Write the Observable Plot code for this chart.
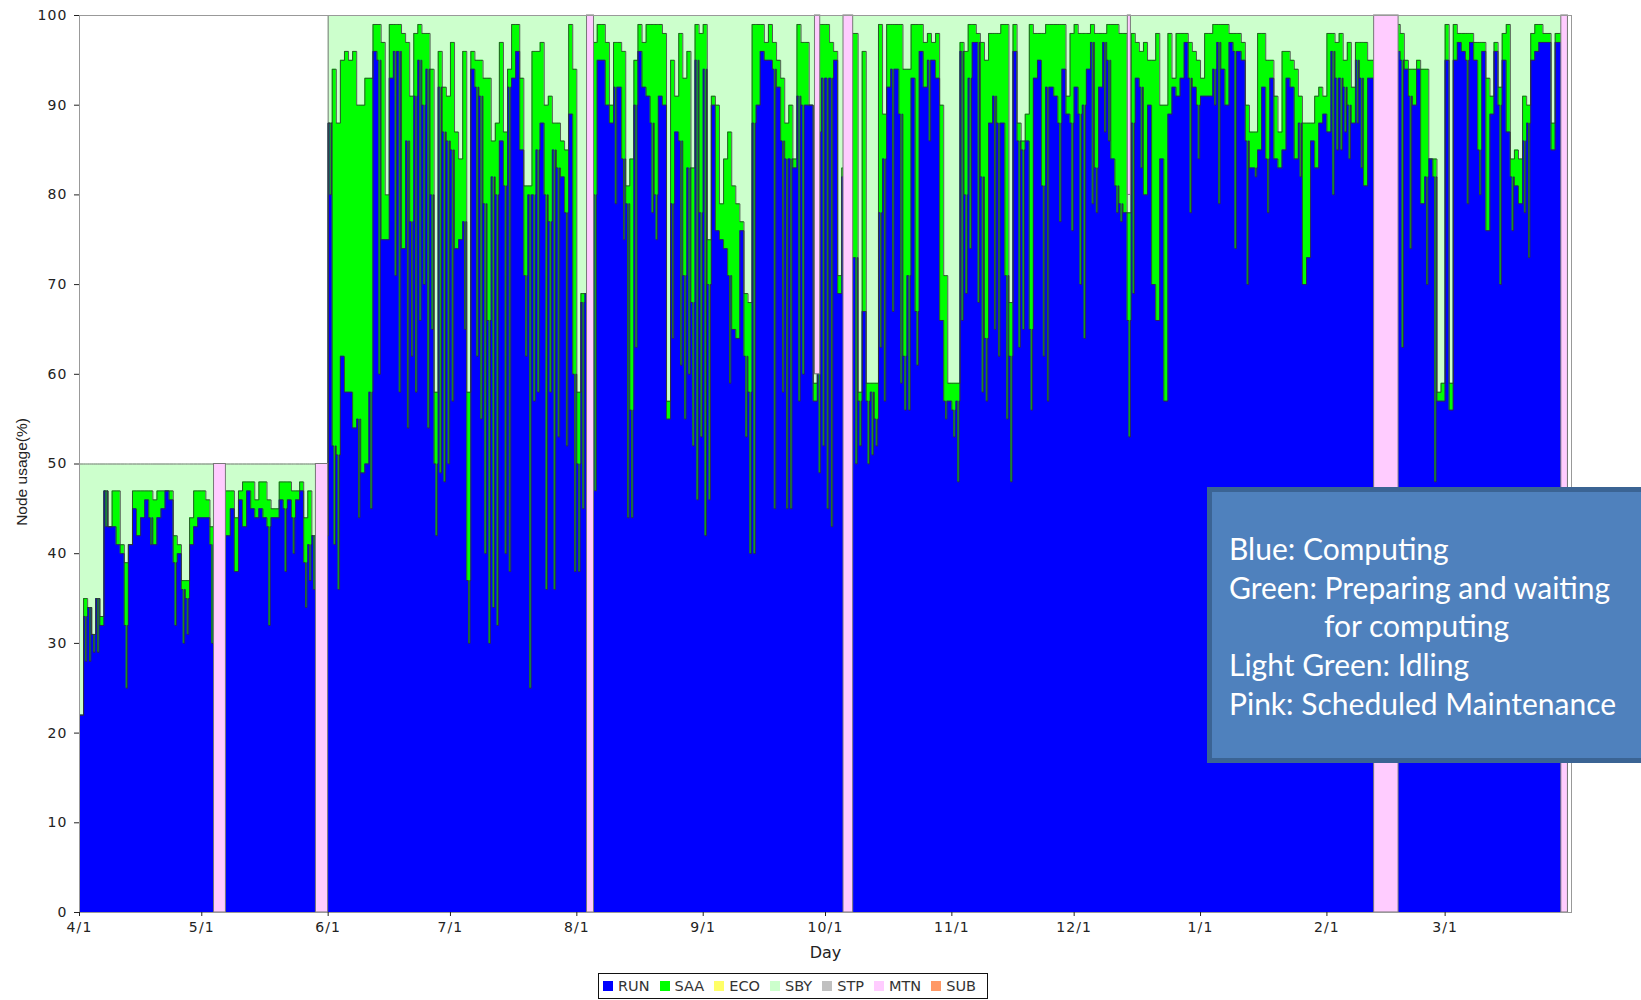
<!DOCTYPE html>
<html><head><meta charset="utf-8">
<script src="https://cdn.jsdelivr.net/npm/d3@7"></script>
<script src="https://cdn.jsdelivr.net/npm/@observablehq/plot@0.6"></script>
<style>
html,body{margin:0;padding:0;background:#fff;overflow:hidden;width:1641px;height:1000px;position:relative}
#chart{position:absolute;left:0;top:0}
#chart svg g[aria-label="y-axis tick label"] text,
#chart svg g[aria-label="x-axis tick label"] text{font-family:"DejaVu Sans",sans-serif;font-size:14px;letter-spacing:1.1px;fill:#222}
#chart svg g[aria-label="y-axis label"] text{font-family:"Liberation Sans",Arial,sans-serif;font-size:15.5px}
#chart svg g[aria-label="x-axis label"] text{font-family:"DejaVu Sans",sans-serif;font-size:16px}
#legend{position:absolute;left:598px;top:973px;width:390px;height:26px;border:1.5px solid #111;box-sizing:border-box;display:flex;align-items:center;padding-left:4px;font-family:"DejaVu Sans",sans-serif;font-size:14.5px;color:#333;background:#fff}
#legend .it{display:flex;align-items:center;margin-right:10px}
#legend .sw{width:10px;height:10px;margin-right:5px}
#note{position:absolute;left:1207px;top:487px;width:460px;height:276px;box-sizing:border-box;background:#4f81bd;border:5px solid #3b6494;color:#fff;font-family:Lato,"Open Sans",sans-serif;font-size:30px;line-height:38.7px;padding:37px 0 0 17px}
#note .ind{padding-left:95px}
</style></head><body>
<div id="chart"></div>
<div id="legend"></div>
<div id="note">
<div>Blue: Computing</div>
<div>Green: Preparing and waiting</div>
<div class="ind">for computing</div>
<div>Light Green: Idling</div>
<div>Pink: Scheduled Maintenance</div>
</div>
<script>
// ---- data (daily, starting 2011-04-01) ----
const startDate = "2011-04-01T00:00Z";
const endDate = "2012-04-01T00:00Z";

// RUN (computing) level per day, %
const run = [
  // Apr
  22,33,34,31,35,32,47,43,43,41,40,32,41,45,42,44,46,44,41,44,45,47,46,39,40,36,35,41,43,44,
  // May
  44,44,41,42,42,42,42,45,38,46,43,47,45,44,45,44,43,44,44,46,45,46,44,46,47,39,41,42,42,42,42,
  // Jun
  88,52,51,62,58,58,54,55,49,50,58,96,95,75,75,93,96,96,74,86,77,91,95,90,94,80,50,92,87,86,
  // Jul
  85,74,75,77,37,94,92,91,79,66,82,80,86,81,92,93,96,85,71,80,80,85,88,80,77,85,83,82,78,89,60,
  // Aug
  50,68,69,69,80,95,95,90,88,92,92,84,79,56,90,96,92,91,88,80,91,90,55,79,87,86,71,83,68,95,78,
  // Sep
  94,70,90,76,75,74,71,65,64,76,62,58,88,90,96,95,95,94,92,86,84,84,83,91,90,90,90,57,87,93,
  // Oct
  93,93,95,69,82,82,73,73,57,67,57,58,55,78,84,92,94,94,89,62,71,93,67,96,92,95,95,93,66,57,57,
  // Nov
  56,57,96,80,93,97,97,82,64,88,91,88,88,71,62,96,86,85,86,65,93,95,81,92,92,91,88,94,89,88,
  // Dec
  92,89,90,94,97,83,92,97,95,84,81,79,78,66,88,93,92,80,90,70,66,84,57,89,92,91,93,97,93,92,90,
  // Jan
  91,91,91,94,97,94,90,97,96,96,95,86,83,83,85,92,84,93,84,83,85,93,92,84,88,70,73,86,83,88,89,
  // Feb
  87,96,93,93,92,90,88,95,93,81,93,93,93,93,93,93,93,96,95,94,91,90,94,79,82,84,82,57,57,
  // Mar
  95,56,95,97,96,95,97,95,85,96,76,89,96,90,95,87,82,81,79,86,88,95,96,97,97,97,85,97,97,97,0
];

// RUN + SAA (top of the green band) per day, %
const saaTop = [
  // Apr
  22,35,34,31,35,33,47,43,47,47,41,39,41,47,47,47,47,47,46,47,47,47,47,42,41,37,37,44,47,47,
  // May
  47,46,43,47,47,47,47,47,44,47,48,48,48,46,48,48,46,45,45,48,48,48,47,47,48,44,47,42,42,42,42,
  // Jun
  88,94,88,95,96,95,96,90,90,93,93,99,99,97,80,99,99,99,98,97,91,98,99,98,98,94,58,96,92,91,
  // Jul
  97,87,84,96,58,96,95,95,93,93,86,88,97,87,94,99,99,93,81,81,96,96,97,90,91,88,88,86,85,99,94,
  // Aug
  58,69,69,69,97,99,99,97,90,97,97,96,81,84,95,99,97,99,99,99,99,98,57,95,91,98,93,96,83,99,98,
  // Sep
  99,75,91,90,79,84,87,81,79,77,69,68,99,99,99,97,99,97,95,93,88,90,84,99,97,97,90,59,99,99,
  // Oct
  99,97,96,71,83,83,98,98,58,96,59,59,59,99,89,99,99,99,99,94,94,99,99,99,97,98,97,98,90,71,59,
  // Nov
  59,59,97,96,99,99,98,97,95,98,98,98,99,99,68,99,88,86,89,99,98,98,98,99,99,99,99,99,91,98,
  // Dec
  99,98,98,98,99,98,98,98,99,99,99,98,98,78,98,97,96,97,95,95,98,90,90,98,93,98,98,98,97,96,95,
  // Jan
  93,98,98,99,99,99,99,98,98,98,97,90,87,87,98,98,95,95,91,87,96,96,95,94,91,88,88,88,91,92,91,
  // Feb
  98,98,97,98,95,97,92,97,97,97,95,95,95,95,95,95,95,99,98,95,94,94,95,94,94,84,84,58,59,
  // Mar
  99,59,99,98,98,98,98,97,97,97,93,91,97,92,98,99,84,85,84,91,90,98,99,99,98,98,88,98,98,98,0
];

// short dips of RUN inside a day (day index, level %)
const dipDay = [1,2,3,4,6,11,17,23,25,26, 32,46,50,52,55,56,57,
  61,62,63,68,71,73,77,78,80,81,82,83,84,85,86,87,88,89,90,
  91,94,95,97,98,99,100,101,102,104,105,109,110,111,112,114,115,116,117,119,121,
  122,123,126,131,133,134,135,136,140,141,145,147,148,149,150,151,152,
  153,154,159,163,164,165,170,172,173,174,176,177,181,182,
  183,184,190,191,193,194,195,196,197,199,201,202,203,205,208,212,
  214,215,216,217,218,220,221,222,224,225,227,228,230,231,233,236,237,240,243,
  245,246,248,249,251,252,254,255,257,258,260,272,274,
  278,279,283,286,288,291,299,
  307,308,309,310,311,313,314,324,326,330,332,
  340,343,348,351,354,355];
const dipVal = [28,28,29,29,43,25,41,32,30,31, 30,32,38,40,34,37,36,
  80,41,36,44,45,60,71,58,54,62,58,66,70,54,65,42,49,48,50,
  57,65,30,62,55,40,30,34,32,40,38,62,25,57,58,36,58,36,53,52,38,
  38,45,47,79,75,44,44,63,78,75,64,61,55,60,52,46,53,
  42,46,59,53,40,40,45,58,45,45,57,60,49,52,
  45,43,50,52,50,51,52,63,57,67,59,56,56,61,86,55,
  53,48,66,69,74,68,58,57,65,62,55,48,63,65,56,62,57,77,76,
  70,64,79,78,87,86,78,77,53,69,83,78,84,
  90,79,74,70,82,78,82,
  80,85,85,87,84,88,83,63,74,70,48,
  79,80,70,76,78,73];

// installed capacity (%) from each start date
const capStart = ["2011-04-01T00:00Z","2011-06-01T00:00Z","2012-03-31T00:00Z"];
const capVal = [50,100,0];

// scheduled maintenance (MTN) periods
const mtnStart = ["2011-05-04T00:00Z","2011-05-29T00:00Z","2011-08-03T12:00Z","2011-09-28T10:00Z","2011-10-05T10:00Z","2011-12-14T04:00Z","2012-02-12T14:00Z","2012-03-29T12:00Z"];
const mtnEnd   = ["2011-05-06T22:00Z","2011-06-01T00:00Z","2011-08-05T05:00Z","2011-09-29T17:00Z","2011-10-07T19:00Z","2011-12-14T22:00Z","2012-02-18T14:00Z","2012-03-31T03:00Z"];
const mtnLow   = [0,0,0,60,0,80,0,0];
const mtnHigh  = [50,50,100,100,100,100,100,100];

const monthTicks = ["2011-04-01","2011-05-01","2011-06-01","2011-07-01","2011-08-01","2011-09-01","2011-10-01","2011-11-01","2011-12-01","2012-01-01","2012-02-01","2012-03-01"];
const yTicks = [0,10,20,30,40,50,60,70,80,90,100];

const legendNames = ["RUN","SAA","ECO","SBY","STP","MTN","SUB"];
const legendColors = ["#0000ff","#00ff00","#ffff66","#ccffcc","#c0c0c0","#ffccff","#ff9966"];

// ---- build table ----
const DAY = 864e5;
const t0 = +new Date(startDate);
const capTimes = capStart.map(s => +new Date(s));
function capAt(t){ let c = capVal[0]; capTimes.forEach((ct,i)=>{ if (t >= ct) c = capVal[i]; }); return c; }
const rows = [];
run.forEach((r, d) => {
  const t = t0 + d*DAY;
  const cap = capAt(t);
  rows.push({t:new Date(t), run:r, top:saaTop[d], cap});
  const k = dipDay.indexOf(d);
  if (k >= 0) {
    rows.push({t:new Date(t + 0.45*DAY), run:dipVal[k], top:saaTop[d], cap});
    rows.push({t:new Date(t + 0.8*DAY), run:r, top:saaTop[d], cap});
  }
});
const last = rows[rows.length-1];
rows.push({t:new Date(endDate), run:last.run, top:last.top, cap:last.cap});
const mtnIdx = mtnStart.map((_, i) => i);

const chart = Plot.plot({
  width: 1641, height: 962,
  marginLeft: 79, marginRight: 70, marginTop: 15, marginBottom: 50,
  style: {fontFamily: "DejaVu Sans, sans-serif", fontSize: "14px", color: "#222", background: "transparent"},
  x: {type: "utc", domain: [new Date(startDate), new Date(endDate)]},
  y: {domain: [0, 100]},
  marks: [
    Plot.areaY(rows, {x: "t", y1: 0, y2: "cap", fill: "#ccffcc", curve: "step-after"}),
    Plot.areaY(rows, {x: "t", y1: 0, y2: "top", fill: "#00ff00", curve: "step-after"}),
    Plot.areaY(rows, {x: "t", y1: 0, y2: "run", fill: "#0000ff", curve: "step-after"}),
    Plot.lineY(rows, {x: "t", y: "cap", stroke: "#777", strokeWidth: 1, curve: "step-after"}),
    Plot.lineY(rows, {x: "t", y: "top", stroke: "#333", strokeOpacity: 0.8, strokeWidth: 1, curve: "step-after"}),
    Plot.lineY(rows, {x: "t", y: "run", stroke: "#333", strokeOpacity: 0.8, strokeWidth: 1, curve: "step-after"}),
    Plot.rect(mtnIdx, {x1: i => new Date(mtnStart[i]), x2: i => new Date(mtnEnd[i]), y1: i => mtnLow[i], y2: i => mtnHigh[i], fill: "#ffccff", stroke: "#777", strokeWidth: 1}),
    Plot.frame({stroke: "#999"}),
    Plot.axisY({ticks: yTicks, tickSize: 5, tickPadding: 7, label: "Node usage(%)", labelAnchor: "center", labelOffset: 64, labelArrow: "none"}),
    Plot.axisX({ticks: monthTicks.map(s => new Date(s + "T00:00Z")), tickFormat: d3.utcFormat("%-m/%-d"), tickSize: 4, tickPadding: 6, label: "Day", labelAnchor: "center", labelOffset: 45, labelArrow: "none"})
  ]
});
document.getElementById("chart").appendChild(chart);
d3.select(chart).selectAll('g[aria-label="y-axis label"] text').attr("dx", -8);

const lg = d3.select("#legend");
legendNames.forEach((n, i) => {
  const it = lg.append("div").attr("class", "it");
  it.append("div").attr("class", "sw").style("background", legendColors[i]);
  it.append("span").text(n);
});
</script>
</body></html>
